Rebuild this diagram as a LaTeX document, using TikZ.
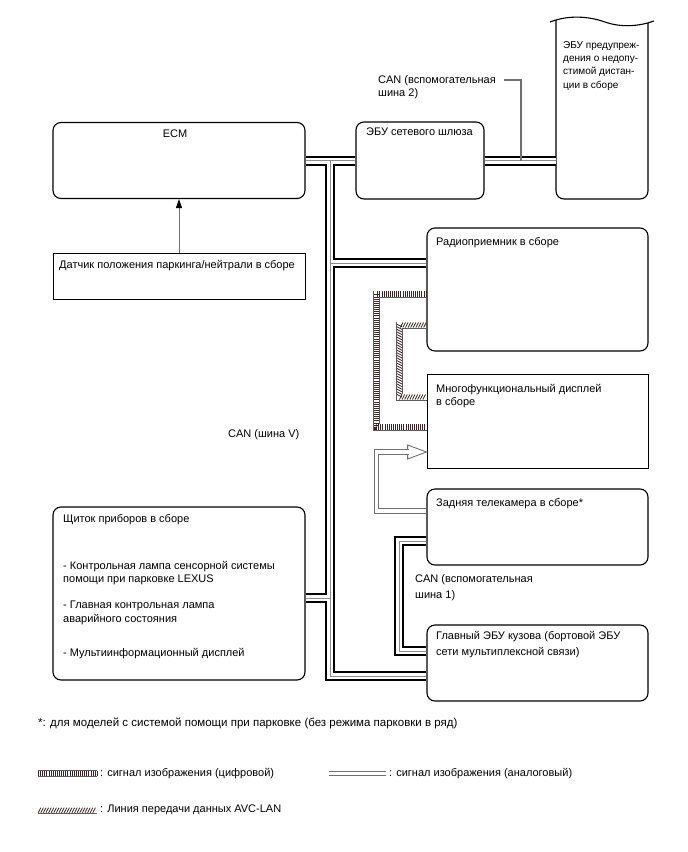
\documentclass[tikz,border=0pt]{standalone}
\usepackage{fontspec}
\setmainfont{Liberation Sans}
\usepackage{tikz}
\usetikzlibrary{arrows.meta,positioning,decorations.markings}
\definecolor{BusGrey}{HTML}{8C8C8C}
\definecolor{Black70}{HTML}{5C5C5C}
\definecolor{LineGrey}{HTML}{707070}
\definecolor{Maroon}{HTML}{3A2426}
\tikzset{
    every node/.style={font=\fontsize{11}{13.5}\selectfont, inner sep=0pt},
    ecubox/.style={
        draw=black, line width=1.1pt, rounded corners=8pt, inner sep=0pt
    },
    plainbox/.style={
        draw=black, line width=0.9pt, sharp corners, inner sep=0pt
    },
    boxtext/.style={anchor=north west, align=left},
    widetext/.style={font=\fontsize{11}{16}\selectfont},
    smalltext/.style={font=\fontsize{10}{13.4}\selectfont},
    canbus/.style={
        draw=black, line width=10pt,
        postaction={draw=white, line width=6pt},
        postaction={draw=BusGrey, line width=0.8pt}
    },
    digiline/.style={
        draw=Black70, line width=7pt,
        postaction={draw=white, line width=5.4pt},
        postaction={draw=Maroon, line width=5.4pt, dash pattern=on 0.8pt off 1.3pt}
    },
    avcline/.style={
        draw=Black70, line width=7pt,
        postaction={draw=white, line width=5.4pt},
        postaction={decorate, decoration={markings,
            mark=between positions 1.5pt and -1.5pt step 2.6pt with
            {\draw[Maroon, line width=0.8pt] (-1.3pt,-2.5pt) -- (1.3pt,2.5pt);}}}
    },
    analine/.style={
        draw=LineGrey, line width=5.5pt,
        postaction={draw=white, line width=3.7pt}
    },
    leader/.style={draw=LineGrey, line width=1.2pt},
}

\begin{document}
\begin{tikzpicture}[x=1pt, y=-1pt]
    \useasboundingbox (0,0) rectangle (688,852);

    % ECUs on the left
    \node[ecubox, minimum width=252pt, minimum height=76pt] (ecm) at (179,160.5) {};
    \node[anchor=center] (ecmtxt) at (175,134) {ECM};
    \node[plainbox, minimum width=252pt, minimum height=46pt] (sensor) at (179,276) {};
    \node[boxtext] (sensortxt) at (59,260) {Датчик положения паркинга/нейтрали в сборе};
    \node[ecubox, minimum width=252pt, minimum height=173pt] (cluster) at (179,593.5) {};
    \node[boxtext] (clustertxt) at (63,514) {Щиток приборов в сборе};
    \node[boxtext] (clusterlamp) at (63,561) {- Контрольная лампа сенсорной системы\\помощи при парковке LEXUS};
    \node[boxtext] (clustermil) at (63,601) {- Главная контрольная лампа\\аварийного состояния};
    \node[boxtext] (clustermid) at (63,648) {- Мультиинформационный дисплей};

    % Gateway and distance warning ECU
    \node[ecubox, minimum width=128pt, minimum height=77pt] (gateway) at (420,160.5) {};
    \node[boxtext] (gatewaytxt) at (366,128) {ЭБУ сетевого шлюза};
    \draw[line width=1.1pt, rounded corners=8pt] (556,20) -- (556,199) -- (648,199) -- (648,23);
    \draw[line width=1.1pt] (550,22) .. controls (568,15) and (588,16) .. (605,22) .. controls (622,28) and (640,26) .. (654,21);
    \node[minimum width=92pt, minimum height=177pt] (warn) at (602,110.5) {};
    \node[boxtext, smalltext] (warntxt) at (563,41) {ЭБУ предупреж-\\дения о недопу-\\стимой дистан-\\ции в сборе};

    % ECUs on the right
    \node[ecubox, minimum width=221pt, minimum height=123pt] (radio) at (537.5,289.5) {};
    \node[boxtext] (radiotxt) at (436,237) {Радиоприемник в сборе};
    \node[plainbox, minimum width=221pt, minimum height=94pt] (mfd) at (537.5,421) {};
    \node[boxtext] (mfdtxt) at (436,384) {Многофункциональный дисплей\\в сборе};
    \node[ecubox, minimum width=221pt, minimum height=76pt] (camera) at (537.5,527) {};
    \node[boxtext] (cameratxt) at (436,498) {Задняя телекамера в сборе*};
    \node[ecubox, minimum width=221pt, minimum height=76pt] (body) at (537.5,663) {};
    \node[boxtext, widetext] (bodytxt) at (436,631) {Главный ЭБУ кузова (бортовой ЭБУ\\сети мультиплексной связи)};

    % CAN (V bus)
    \coordinate (tee) at (330,160.5);
    \draw[canbus] (ecm.east) -- (gateway.west)
        (tee) |- ([yshift=-13pt]body.west)
        ([yshift=26.5pt]radio.west -| tee) -- ([yshift=26.5pt]radio.west)
        ([yshift=-4.5pt]cluster.east) -- ([yshift=-4.5pt]cluster.east -| tee);
    \node[anchor=north west] (canvlbl) at (228,429) {CAN (шина V)};

    % CAN sub bus 2
    \draw[canbus] (gateway.east) -- (gateway.east -| warn.west);
    \node[boxtext] (aux2lbl) at (378,75) {CAN (вспомогательная\\шина 2)};
    \coordinate (aux2tap) at (gateway.east -| 521,0);
    \draw[leader] ([xshift=8pt,yshift=-5pt]aux2lbl.north east) -| (aux2tap);

    % CAN sub bus 1
    \draw[canbus] ([yshift=-14pt]camera.west) -- ++(-27,0) |- ([yshift=12pt]body.west);
    \node[boxtext, widetext] (aux1lbl) at (415,574) {CAN (вспомогательная\\шина 1)};

    % Video and AVC-LAN lines
    \draw[digiline] ([yshift=-4.5pt]radio.west) -- ++(-50,0) |- ([yshift=-6pt]mfd.west);
    \draw[avcline] ([yshift=-35.5pt]radio.west) -- ++(-27,0) |- ([yshift=24pt]mfd.west);
    \filldraw[draw=LineGrey, fill=white, line width=0.9pt] ([yshift=-31pt]mfd.west) -- ++(-19,-7) -- ++(0,14) -- cycle;
    \draw[analine] ([yshift=16pt]camera.west) -- ++(-50,0) |- ([xshift=-18pt,yshift=-31pt]mfd.west);

    % Sensor to ECM
    \draw[draw=LineGrey, line width=1pt, -{Triangle[length=9pt, width=6pt, color=black]}] (sensor.north) -- (ecm.south);

    % Footnote and legend
    \node[anchor=north west, font=\fontsize{11.5}{13.5}\selectfont] (footnote) at (38,718) {*: для моделей с системой помощи при парковке (без режима парковки в ряд)};
    \node[anchor=north west] (digikey) at (100,768) {: сигнал изображения (цифровой)};
    \draw[digiline] ([xshift=-62pt]digikey.west) -- ([xshift=-3pt]digikey.west);
    \node[anchor=north west] (anakey) at (389,768) {: сигнал изображения (аналоговый)};
    \draw[analine] ([xshift=-60pt]anakey.west) -- ([xshift=-3pt]anakey.west);
    \node[anchor=north west] (avckey) at (100,805) {: Линия передачи данных AVC-LAN};
    \draw[avcline] ([xshift=-62pt]avckey.west) -- ([xshift=-3pt]avckey.west);
\end{tikzpicture}
\end{document}
